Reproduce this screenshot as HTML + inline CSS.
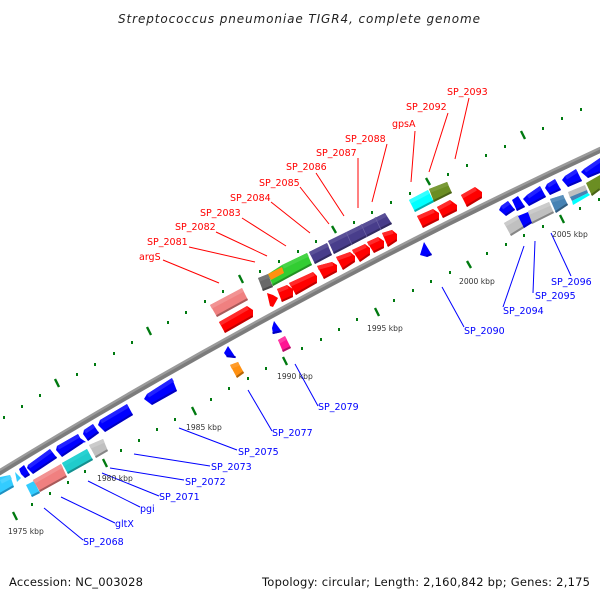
<!DOCTYPE html>
<html>
<head>
<meta charset="utf-8">
<style>
html,body{margin:0;padding:0;background:#fff}
svg{display:block}
text{font-family:"DejaVu Sans","Liberation Sans",sans-serif}
.r text,text.r{fill:#f00;font-size:9.5px}
.bl text{fill:#00f;font-size:9.5px}
.k text{fill:#333;font-size:7.6px}
.lr line{stroke:#f00;stroke-width:1}
.lb line{stroke:#00f;stroke-width:1}
.mj line{stroke:#007a10;stroke-width:2.4}
.dt rect{fill:#007a10}
path.t,path.b{fill:none}
path.t{stroke-width:4;transform:translate(.9px,1.8px)}
path.b{stroke-width:2;transform:translate(-.45px,-.9px)}
.B polygon{fill:#00f}.B .t{stroke:#2222ff}.B .b{stroke:#0000c0}
.R polygon{fill:#f00}.R .t{stroke:#ff2a2a}.R .b{stroke:#c00000}
.S polygon{fill:#f08080}.S .t{stroke:#f29393}.S .b{stroke:#a85a5a}
.G polygon{fill:#c0c0c0}.G .t{stroke:#cbcbcb}.G .b{stroke:#868686}
.T polygon{fill:#20cccc}.T .t{stroke:#28d2d2}.T .b{stroke:#168f8f}
.L polygon{fill:#33ccff}.L .t{stroke:#4dd3ff}.L .b{stroke:#2090c0}
.C polygon{fill:#0ff}.C .t{stroke:#33ffff}.C .b{stroke:#00b0b0}
.O polygon{fill:#6b8e23}.O .t{stroke:#7a9a38}.O .b{stroke:#4a6318}
.W polygon{fill:#4682b4}.W .t{stroke:#5a90bd}.W .b{stroke:#315b7e}
.I polygon{fill:#483d8b}.I .t{stroke:#5a5097}.I .b{stroke:#322b61}
.N polygon{fill:#32cd32}.N .t{stroke:#46d346}.N .b{stroke:#238f23}
.A polygon{fill:#ff9010}.A .t{stroke:#ff9c2a}.A .b{stroke:#b4650a}
.M polygon{fill:#ff1493}.M .t{stroke:#ff3aa4}.M .b{stroke:#b40e67}
.D polygon{fill:#696969}.D .t{stroke:#767676}.D .b{stroke:#4a4a4a}
</style>
</head>
<body>
<svg xmlns="http://www.w3.org/2000/svg" width="600" height="600" viewBox="0 0 600 600">
<rect width="600" height="600" fill="#fff"/>
<text x="118" y="23" font-size="12" font-style="italic" fill="#222" textLength="362" lengthAdjust="spacing">Streptococcus pneumoniae TIGR4, complete genome</text>

<path d="M-10 478 L0 472 Q300 289 600 150 L610 146" fill="none" stroke="#9a9a9a" stroke-width="6"/>
<path d="M-10 479.3 L0 473.3 Q300 290.3 600 151.3 L610 147.3" fill="none" stroke="#7c7c7c" stroke-width="3.4"/>

<g class="mj">
<line x1="55" y1="379" x2="59" y2="387"/><line x1="147" y1="327" x2="151" y2="335"/><line x1="239" y1="275" x2="243" y2="283"/><line x1="332" y1="226" x2="336" y2="233"/><line x1="426" y1="178" x2="430" y2="185"/><line x1="521" y1="131" x2="525" y2="139"/>
<line x1="13" y1="512" x2="17" y2="520"/><line x1="103" y1="459" x2="107" y2="467"/><line x1="192" y1="407" x2="196" y2="415"/><line x1="283" y1="357" x2="287" y2="365"/><line x1="375" y1="308" x2="379" y2="316"/><line x1="467" y1="261" x2="471" y2="268"/><line x1="560" y1="215" x2="564" y2="223"/>
</g>
<g class="dt">
<rect x="3" y="416" width="2" height="3"/><rect x="21" y="405" width="2" height="3"/><rect x="39" y="394" width="2" height="3"/><rect x="76" y="373" width="2" height="3"/><rect x="94" y="363" width="2" height="3"/><rect x="113" y="352" width="2" height="3"/><rect x="131" y="341" width="2" height="3"/><rect x="167" y="321" width="2" height="3"/><rect x="185" y="311" width="2" height="3"/><rect x="204" y="300" width="2" height="3"/><rect x="222" y="290" width="2" height="3"/><rect x="259" y="270" width="2" height="3"/><rect x="278" y="260" width="2" height="3"/><rect x="297" y="250" width="2" height="3"/><rect x="315" y="240" width="2" height="3"/><rect x="353" y="221" width="2" height="3"/><rect x="371" y="211" width="2" height="3"/><rect x="390" y="201" width="2" height="3"/><rect x="409" y="192" width="2" height="3"/><rect x="447" y="173" width="2" height="3"/><rect x="466" y="164" width="2" height="3"/><rect x="485" y="154" width="2" height="3"/><rect x="504" y="145" width="2" height="3"/><rect x="542" y="127" width="2" height="3"/><rect x="561" y="117" width="2" height="3"/><rect x="580" y="108" width="2" height="3"/>
<rect x="31" y="503" width="2" height="3"/><rect x="49" y="492" width="2" height="3"/><rect x="67" y="481" width="2" height="3"/><rect x="84" y="470" width="2" height="3"/><rect x="120" y="449" width="2" height="3"/><rect x="138" y="439" width="2" height="3"/><rect x="156" y="428" width="2" height="3"/><rect x="174" y="418" width="2" height="3"/><rect x="210" y="398" width="2" height="3"/><rect x="228" y="387" width="2" height="3"/><rect x="247" y="377" width="2" height="3"/><rect x="265" y="367" width="2" height="3"/><rect x="301" y="347" width="2" height="3"/><rect x="320" y="338" width="2" height="3"/><rect x="338" y="328" width="2" height="3"/><rect x="356" y="318" width="2" height="3"/><rect x="393" y="299" width="2" height="3"/><rect x="412" y="289" width="2" height="3"/><rect x="430" y="280" width="2" height="3"/><rect x="449" y="271" width="2" height="3"/><rect x="486" y="252" width="2" height="3"/><rect x="505" y="243" width="2" height="3"/><rect x="523" y="234" width="2" height="3"/><rect x="542" y="225" width="2" height="3"/><rect x="579" y="207" width="2" height="3"/><rect x="598" y="198" width="2" height="3"/>
</g>

<!-- bottom-left cluster -->
<g class="L"><polygon points="0,477 10,475 14,487 0,495"/><path class="t" d="M0 480 L10 475"/><path class="b" d="M0 495 L14 487"/></g>
<g class="L"><polygon points="15,472 21,478 17,482"/></g>
<g class="B"><polygon points="19,469 24,465 30,475 25,478 21,474"/><path class="b" d="M25 478 L30 475"/></g>
<g class="B"><polygon points="28,465 50,449 57,458 33,474 27,468"/><path class="t" d="M28 465 L50 449"/><path class="b" d="M33 474 L57 458"/></g>
<g class="B"><polygon points="57,446 78,434 83,443 62,457 56,450"/><path class="t" d="M57 446 L78 434"/><path class="b" d="M62 457 L83 443"/></g>
<g class="B"><polygon points="80,438 86,442 82,443"/></g>
<g class="B"><polygon points="84,430 93,424 99,433 88,441 83,434"/><path class="t" d="M84 430 L93 424"/><path class="b" d="M88 441 L99 433"/></g>
<g class="B"><polygon points="100,420 127,404 133,415 105,432 98,425"/><path class="t" d="M100 420 L127 404"/><path class="b" d="M105 432 L133 415"/></g>
<g class="B"><polygon points="147,394 172,378 177,391 152,405 144,399"/><path class="t" d="M147 394 L172 378"/><path class="b" d="M152 405 L177 391"/></g>
<g class="L"><polygon points="26,485 34,481 40,493 32,497"/><path class="b" d="M32 497 L40 493"/></g>
<g class="S"><polygon points="33,480 61,464 67,477 40,492"/><path class="t" d="M33 480 L61 464"/><path class="b" d="M40 492 L67 477"/></g>
<g class="T"><polygon points="62,463 87,449 93,460 68,474"/><path class="t" d="M62 463 L87 449"/><path class="b" d="M68 474 L93 460"/></g>
<g class="G"><polygon points="89,445 103,439 108,451 96,458"/><path class="t" d="M89 445 L103 439"/><path class="b" d="M96 458 L108 451"/></g>

<!-- middle -->
<g class="S"><polygon points="210,305 242,288 248,300 217,317"/><path class="t" d="M210 305 L242 288"/><path class="b" d="M217 317 L248 300"/></g>
<g class="R"><polygon points="219,322 247,306 253,310 253,317 225,333"/><path class="t" d="M219 322 L247 306"/><path class="b" d="M225 333 L253 317"/></g>
<g class="B"><polygon points="274,321 282,332 273,334 272,328"/><path class="b" d="M273 334 L282 332"/></g>
<g class="M"><polygon points="278,340 285,336 291,348 283,352"/><path class="t" d="M278 340 L285 336"/><path class="b" d="M283 352 L291 348"/></g>
<g class="B"><polygon points="228,346 236,358 227,357 224,353"/><path class="b" d="M227 357 L236 358"/></g>
<g class="A"><polygon points="230,365 238,362 244,373 237,378"/><path class="t" d="M230 365 L238 362"/><path class="b" d="M237 378 L244 373"/></g>
<g class="D"><polygon points="258,278 268,274 273,287 263,291"/><path class="t" d="M258 278 L268 274"/><path class="b" d="M263 291 L273 287"/></g>
<g class="N"><polygon points="282,265 307,253 312,265 287,278 273,286 268,274"/><path class="t" d="M282 265 L307 253"/><path class="b" d="M273 286 L312 265"/></g>
<g class="A"><polygon points="268,274 282,267 284,273 271,280"/></g>
<g class="I"><polygon points="309,252 327,243 332,255 315,264"/><path class="t" d="M309 252 L327 243"/><path class="b" d="M315 264 L332 255"/></g>
<g class="I"><polygon points="328,241 385,213 392,224 334,254"/><path class="t" d="M328 241 L385 213"/><path class="b" d="M334 254 L392 224"/></g>
<path d="M346 232 L352 245 M361 224 L367 237 M375 217 L381 230" stroke="#6c63a4" stroke-width=".8" fill="none"/>
<g class="R"><polygon points="267,293 273,295 278,298 273,307 270,306"/></g>
<g class="R"><polygon points="277,289 287,285 293,289 293,297 282,302"/><path class="t" d="M277 289 L287 285"/><path class="b" d="M282 302 L293 297"/></g>
<g class="R"><polygon points="289,283 313,272 317,276 317,283 296,295"/><path class="t" d="M289 283 L313 272"/><path class="b" d="M296 295 L317 283"/></g>
<g class="R"><polygon points="317,266 332,262 337,265 337,272 324,279"/><path class="t" d="M317 266 L332 262"/><path class="b" d="M324 279 L337 272"/></g>
<g class="R"><polygon points="336,257 350,252 355,256 355,262 343,270"/><path class="t" d="M336 257 L350 252"/><path class="b" d="M343 270 L355 262"/></g>
<g class="R"><polygon points="352,250 365,244 370,248 370,255 360,262"/><path class="t" d="M352 250 L365 244"/><path class="b" d="M360 262 L370 255"/></g>
<g class="R"><polygon points="367,242 378,237 384,241 384,248 374,253"/><path class="t" d="M367 242 L378 237"/><path class="b" d="M374 253 L384 248"/></g>
<g class="R"><polygon points="382,233 392,230 397,234 397,241 388,247"/><path class="t" d="M382 233 L392 230"/><path class="b" d="M388 247 L397 241"/></g>

<!-- right -->
<g class="C"><polygon points="409,200 428,190 434,202 415,212"/><path class="t" d="M409 200 L428 190"/><path class="b" d="M415 212 L434 202"/></g>
<g class="O"><polygon points="429,189 447,182 452,193 434,202"/><path class="t" d="M429 189 L447 182"/><path class="b" d="M434 202 L452 193"/></g>
<g class="R"><polygon points="417,216 433,209 439,213 439,220 423,228"/><path class="t" d="M417 216 L433 209"/><path class="b" d="M423 228 L439 220"/></g>
<g class="R"><polygon points="437,207 450,200 457,205 457,211 443,218"/><path class="t" d="M437 207 L450 200"/><path class="b" d="M443 218 L457 211"/></g>
<g class="R"><polygon points="461,195 475,187 482,192 482,198 467,207"/><path class="t" d="M461 195 L475 187"/><path class="b" d="M467 207 L482 198"/></g>
<g class="B"><polygon points="420,255 424,242 432,255 427,257"/><path class="b" d="M427 257 L432 255"/></g>
<g class="B"><polygon points="501,206 508,201 515,210 506,216 499,210"/><path class="t" d="M501 206 L508 201"/><path class="b" d="M506 216 L515 210"/></g>
<g class="B"><polygon points="512,200 518,196 525,207 517,211"/><path class="b" d="M517 211 L525 207"/></g>
<g class="B"><polygon points="527,195 540,186 546,197 529,206 523,199"/><path class="t" d="M527 195 L540 186"/><path class="b" d="M529 206 L546 197"/></g>
<g class="B"><polygon points="547,184 555,179 561,190 550,195 545,188"/><path class="t" d="M547 184 L555 179"/><path class="b" d="M550 195 L561 190"/></g>
<g class="B"><polygon points="565,176 576,169 582,181 568,187 562,180"/><path class="t" d="M565 176 L576 169"/><path class="b" d="M568 187 L582 181"/></g>
<g class="B"><polygon points="584,169 600,158 600,173 588,178 581,172"/><path class="t" d="M584 169 L600 158"/><path class="b" d="M588 178 L600 173"/></g>
<g class="G"><polygon points="504,223 518,215 524,228 511,236"/><path class="t" d="M504 223 L518 215"/><path class="b" d="M511 236 L524 228"/></g>
<g class="G"><polygon points="528,211 549,202 554,213 532,224"/><path class="t" d="M528 211 L549 202"/><path class="b" d="M532 224 L554 213"/></g>
<g class="B"><polygon points="518,216 528,212 532,223 524,228"/><path class="b" d="M524 228 L532 223"/></g>
<g class="W"><polygon points="550,199 563,195 568,205 556,213"/><path class="t" d="M550 199 L563 195"/><path class="b" d="M556 213 L568 205"/></g>
<g class="G"><polygon points="568,192 585,185 587,190 570,198"/></g>
<g class="W"><polygon points="570,197 587,190 588,193 572,201"/></g>
<g class="C"><polygon points="572,201 588,193 590,195 573,205"/></g>
<g class="O"><polygon points="586,183 600,175 600,190 592,196"/><path class="b" d="M592 196 L600 190"/></g>

<g class="lr">
<line x1="163" y1="260" x2="219" y2="283"/><line x1="189" y1="247" x2="255" y2="262"/><line x1="216" y1="232" x2="267" y2="256"/><line x1="242" y1="218" x2="286" y2="246"/><line x1="271" y1="202" x2="310" y2="233"/><line x1="300" y1="187" x2="329" y2="224"/><line x1="316" y1="173" x2="344" y2="216"/><line x1="358" y1="158" x2="358" y2="208"/><line x1="387" y1="144" x2="372" y2="202"/><line x1="415" y1="131" x2="411" y2="182"/><line x1="448" y1="113" x2="429" y2="172"/><line x1="469" y1="98" x2="455" y2="159"/>
</g>
<g class="lb">
<line x1="551" y1="233" x2="571" y2="276"/><line x1="535" y1="241" x2="533" y2="293"/><line x1="524" y1="246" x2="503" y2="307"/><line x1="442" y1="287" x2="464" y2="327"/><line x1="295" y1="364" x2="318" y2="406"/><line x1="248" y1="390" x2="272" y2="431"/><line x1="179" y1="428" x2="237" y2="450"/><line x1="134" y1="454" x2="210" y2="466"/><line x1="110" y1="468" x2="184" y2="480"/><line x1="102" y1="473" x2="159" y2="496"/><line x1="88" y1="481" x2="140" y2="507"/><line x1="61" y1="497" x2="115" y2="523"/><line x1="44" y1="508" x2="83" y2="540"/>
</g>

<g class="r">
<text x="447" y="95">SP_2093</text><text x="406" y="110">SP_2092</text><text x="392" y="127">gpsA</text><text x="345" y="142">SP_2088</text><text x="316" y="156">SP_2087</text><text x="286" y="170">SP_2086</text><text x="259" y="186">SP_2085</text><text x="230" y="201">SP_2084</text><text x="200" y="216">SP_2083</text><text x="175" y="230">SP_2082</text><text x="147" y="245">SP_2081</text><text x="139" y="260">argS</text>
</g>
<g class="bl">
<text x="551" y="285">SP_2096</text><text x="535" y="299">SP_2095</text><text x="503" y="314">SP_2094</text><text x="464" y="334">SP_2090</text><text x="318" y="410">SP_2079</text><text x="272" y="436">SP_2077</text><text x="238" y="455">SP_2075</text><text x="211" y="470">SP_2073</text><text x="185" y="485">SP_2072</text><text x="159" y="500">SP_2071</text><text x="140" y="512">pgi</text><text x="115" y="527">gltX</text><text x="83" y="545">SP_2068</text>
</g>
<g class="k">
<text x="8" y="534">1975 kbp</text><text x="97" y="481">1980 kbp</text><text x="186" y="430">1985 kbp</text><text x="277" y="379">1990 kbp</text><text x="367" y="331">1995 kbp</text><text x="459" y="284">2000 kbp</text><text x="552" y="237">2005 kbp</text>
</g>
<text x="9" y="586" font-size="11.5" fill="#111" textLength="134" lengthAdjust="spacing">Accession: NC_003028</text>
<text x="262" y="586" font-size="11.5" fill="#111" textLength="328" lengthAdjust="spacing">Topology: circular; Length: 2,160,842 bp; Genes: 2,175</text>
</svg>
</body>
</html>
